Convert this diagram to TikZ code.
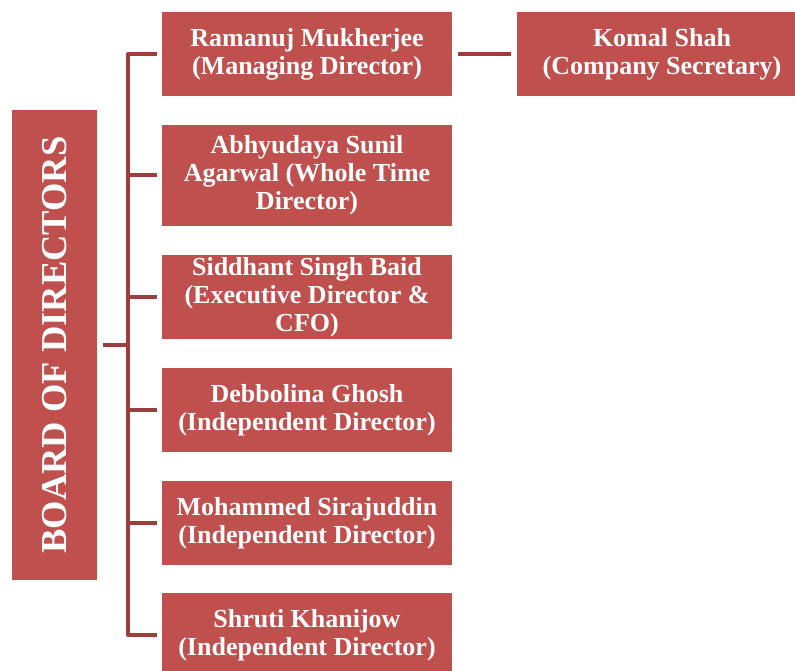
\documentclass[tikz,border=0pt]{standalone}
\usepackage{fontspec}
\setmainfont{Liberation Serif}
\usepackage{color}
\definecolor{boxred}{HTML}{C0504D}
\definecolor{linkred}{HTML}{9E3D3B}
\tikzset{
  member/.style={fill=boxred, draw=none, text=white, align=center,
    minimum width=290pt, minimum height=84pt, inner sep=0pt,
    font=\bfseries\fontsize{26}{28}\selectfont},
  board/.style={member, rotate=90, minimum width=470pt, minimum height=85pt,
    font=\bfseries\fontsize{36.5}{40}\selectfont},
  link/.style={draw=linkred, line width=4pt}
}

\begin{document}
\begin{tikzpicture}[x=1pt, y=-1pt]
  \useasboundingbox (0 , 0) rectangle (795 , 671);
  \node[board] (bod) at (54.5 , 345) {BOARD OF DIRECTORS};
  \node[member] (md)  at (307 , 54)    {Ramanuj Mukherjee\\(Managing Director)};
  \node[member, minimum height=101pt] (wtd) at (307 , 175.5)
        {Abhyudaya Sunil\\Agarwal (Whole Time\\Director)};
  \node[member] (cfo) at (307 , 297)   {Siddhant Singh Baid\\(Executive Director \&\\CFO)};
  \node[member] (id1) at (307 , 410)   {Debbolina Ghosh\\(Independent Director)};
  \node[member] (id2) at (307 , 523)   {Mohammed Sirajuddin\\(Independent Director)};
  \node[member] (id3) at (307 , 635)   {Shruti Khanijow\\(Independent Director)};
  \node[member] (cs)  at (662 , 54)    {Komal Shah\\(Company Secretary)};
  \coordinate (spine) at (128 , 345);
  \draw[link, shorten <=6pt] (bod.south) -- (spine);
  \draw[link, line join=round, shorten <=5pt, shorten >=5pt]
        (md.west) -| (spine) |- (id3.west);
  \foreach \dir in {wtd, cfo, id1, id2}
    \draw[link, shorten >=5pt] (spine |- \dir.west) -- (\dir.west);
  \draw[link, shorten <=6pt, shorten >=6pt] (md.east) -- (cs.west);
\end{tikzpicture}
\end{document}
